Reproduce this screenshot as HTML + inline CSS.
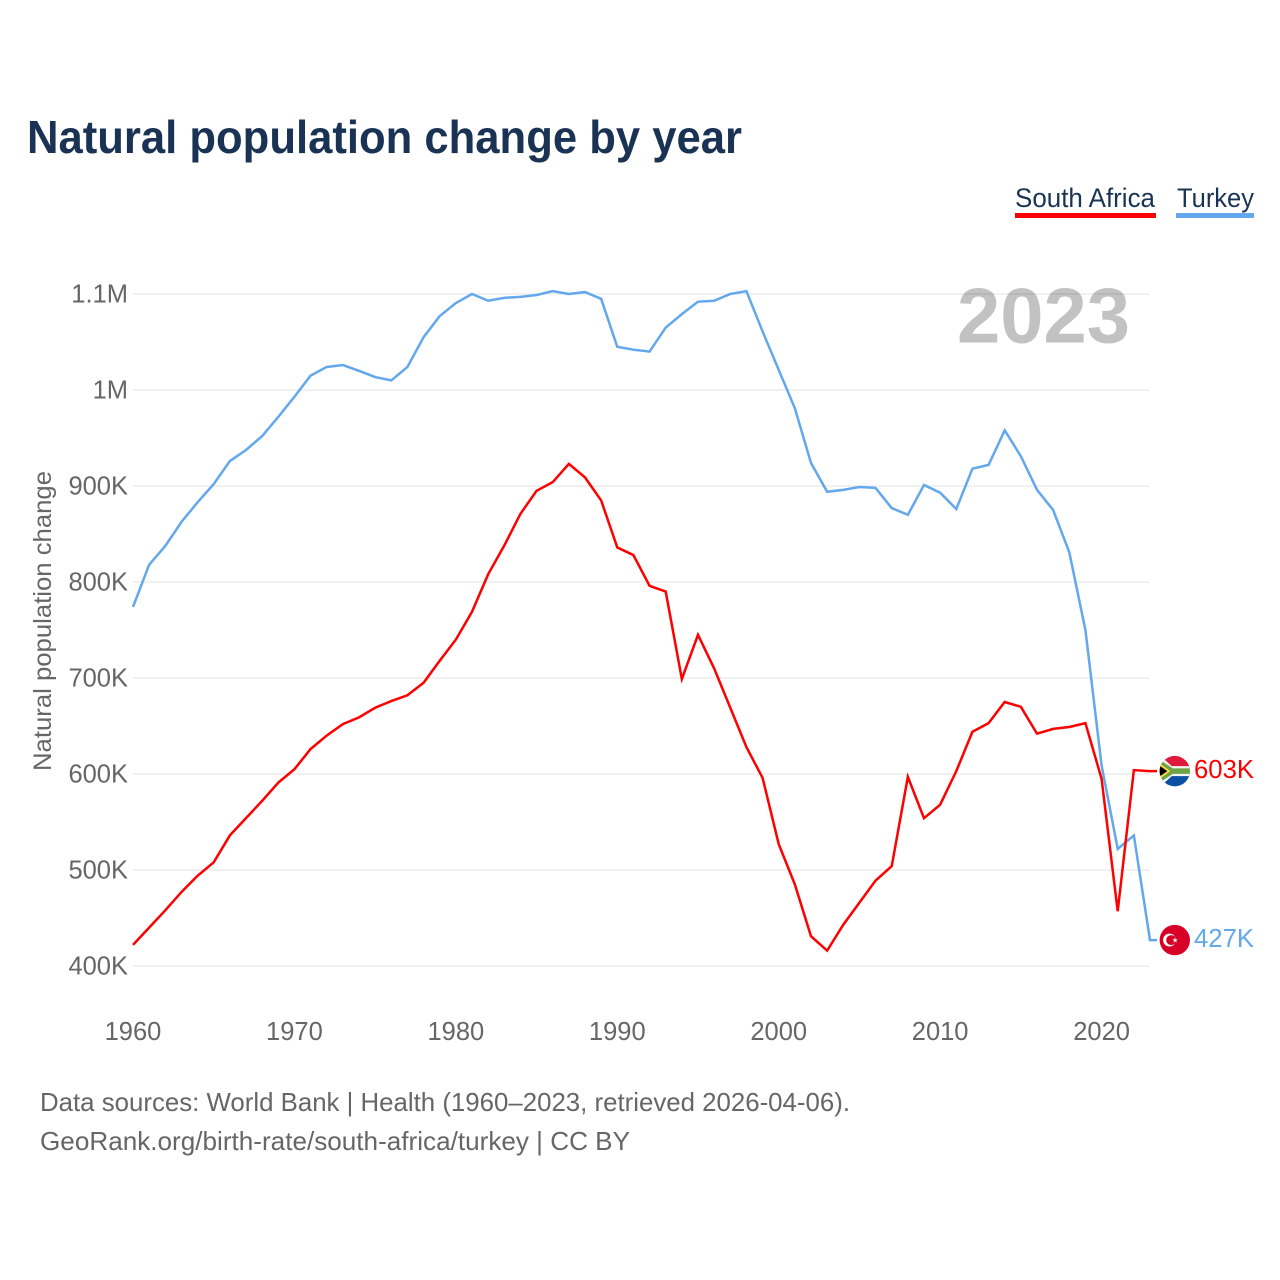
<!DOCTYPE html>
<html lang="en">
<head>
<meta charset="utf-8">
<title>Natural population change by year</title>
<style>
  html, body { margin: 0; padding: 0; background: #fff; }
  svg { display: block; font-family: "Liberation Sans", sans-serif; }
</style>
</head>
<body>
<svg id="chart" xmlns="http://www.w3.org/2000/svg" width="1280" height="1280" viewBox="0 0 1280 1280">
  <defs>
    <clipPath id="flag-clip"><circle cx="0" cy="0" r="15.2"/></clipPath>
  </defs>
  <rect x="0" y="0" width="1280" height="1280" fill="#fff"/>
  <text x="27" y="153" font-size="46" font-weight="700" fill="#1a3354" textLength="715" lengthAdjust="spacingAndGlyphs">Natural population change by year</text>

  <g>
    <text x="1015" y="207" font-size="27" fill="#1a3354" textLength="140" lengthAdjust="spacingAndGlyphs">South Africa</text>
    <rect x="1015" y="213" width="141" height="5" fill="#ff0000"/>
  </g>
  <g>
    <text x="1177" y="207" font-size="27" fill="#1a3354" textLength="77" lengthAdjust="spacingAndGlyphs">Turkey</text>
    <rect x="1176" y="213" width="78" height="5" fill="#63a7ec"/>
  </g>

  <text x="957" y="342.5" font-size="78" font-weight="700" fill="#c2c2c2" textLength="173" lengthAdjust="spacingAndGlyphs">2023</text>

  <g id="grid"></g>
  <g id="y-ticks"></g>
  <g id="x-ticks"></g>

  <text transform="translate(51,771) rotate(-90)" x="0" y="0" font-size="25" fill="#666" textLength="300" lengthAdjust="spacingAndGlyphs">Natural population change</text>

  <g id="series"></g>

  <g id="flag-za">
    <g clip-path="url(#flag-clip)">
      <rect x="-16" y="-16" width="32" height="16" fill="#de1b3a"/>
      <rect x="-16" y="0" width="32" height="16" fill="#0b4ea2"/>
      <path d="M-13,-14 L-3,-5 L16,-5 L16,5 L-3,5 L-13,14 L-16,14 L-16,-14 Z" fill="#f4f4f4"/>
      <path d="M-16,-12 L-2,-2.8 L16,-2.8 L16,2.8 L-2,2.8 L-16,12 Z" fill="#6da544"/>
      <path d="M-16,-8.5 L-4.5,0 L-16,8.5 Z" fill="#ffda44"/>
      <path d="M-16,-6 L-7.5,0 L-16,6 Z" fill="#000"/>
    </g>
  </g>
  <g id="flag-tr">
    <g clip-path="url(#flag-clip)">
      <rect x="-16" y="-16" width="32" height="32" fill="#d80027"/>
      <circle cx="-5.3" cy="0" r="6.4" fill="#fff"/>
      <circle cx="-3.6" cy="0" r="5" fill="#d80027"/>
      <path transform="translate(-3.2,0)" d="M3.4,-2.6 L4.1,-0.7 L6.1,-0.8 L4.6,0.5 L5.3,2.4 L3.5,1.3 L1.9,2.5 L2.4,0.5 L0.8,-0.7 L2.8,-0.7 Z" fill="#fff"/>
    </g>
  </g>

  <text x="40" y="1111" font-size="26" fill="#666" textLength="810" lengthAdjust="spacingAndGlyphs">Data sources: World Bank | Health (1960–2023, retrieved 2026-04-06).</text>
  <text x="40" y="1150" font-size="26" fill="#666" textLength="590" lengthAdjust="spacingAndGlyphs">GeoRank.org/birth-rate/south-africa/turkey | CC BY</text>

  <script>
    // Chart data (values in thousands)
    const years = [1960,1961,1962,1963,1964,1965,1966,1967,1968,1969,1970,1971,1972,1973,1974,1975,1976,1977,1978,1979,1980,1981,1982,1983,1984,1985,1986,1987,1988,1989,1990,1991,1992,1993,1994,1995,1996,1997,1998,1999,2000,2001,2002,2003,2004,2005,2006,2007,2008,2009,2010,2011,2012,2013,2014,2015,2016,2017,2018,2019,2020,2021,2022,2023];
    const turkeyValues = [774,818,837.5,862.5,883,902,926,937.5,952,972,993,1015,1024,1026,1020,1013.5,1010,1024,1055,1077,1090.6,1100,1093,1096,1097,1099,1103,1100,1102,1095,1045,1042,1040,1065,1079,1092,1093,1100,1103,1061,1021,981,924,894,896,899,898,877,870,901,893,876,918,922,958,931,896,875,831,750,609,522,536,427];
    const southAfricaValues = [422,440,458,477,494,508,536,554,572,591,605,626,640,652,659,669,676,682,695,718,740,769,808,838,871,895,904,923,909,885,836,828,796,790,699,745,710,669,628,596,527,485,431,416,443,466,489,504,597,554,568,603,644,653,675,670,642,647,649,653,595,457,604,603];
    const yTickValues = [400,500,600,700,800,900,1000,1100];
    const yTickLabels = ["400K","500K","600K","700K","800K","900K","1M","1.1M"];
    const xTickValues = [1960,1970,1980,1990,2000,2010,2020];
    const xTickLabels = ["1960","1970","1980","1990","2000","2010","2020"];
    const endLabelSouthAfrica = "603K";
    const endLabelTurkey = "427K";

    const NS = "http://www.w3.org/2000/svg";
    const X0 = 133, X1 = 1150, Y400 = 966, PX_PER_K = 0.96;
    function xScale(year) { return X0 + (year - 1960) * (X1 - X0) / 63; }
    function yScale(v) { return Y400 - (v - 400) * PX_PER_K; }
    function make(tag, attrs, parent) {
      const el = document.createElementNS(NS, tag);
      for (const k in attrs) el.setAttribute(k, attrs[k]);
      parent.appendChild(el);
      return el;
    }

    const grid = document.getElementById("grid");
    const yTicks = document.getElementById("y-ticks");
    yTickValues.forEach(function (v, i) {
      const line = make("line", { x1: X0, x2: X1, y1: yScale(v), y2: yScale(v), stroke: "#000", "stroke-opacity": 0.09, "stroke-width": 1.2 }, grid);
      
      
      const label = make("text", { x: 128, y: yScale(v) + 8.5, "text-anchor": "end", "font-size": 25.5, fill: "#666" }, yTicks);
      label.textContent = yTickLabels[i];
      
      
    });

    const xTicks = document.getElementById("x-ticks");
    xTickValues.forEach(function (v, i) {
      const label = make("text", { x: xScale(v), y: 1040, "text-anchor": "middle", "font-size": 25.5, fill: "#666" }, xTicks);
      label.textContent = xTickLabels[i];
      
      
    });

    const seriesGroup = document.getElementById("series");
    function drawSeries(values, color, name, flagId, endLabel) {
      const pts = values.map(function (v, i) { return xScale(years[i]) + "," + yScale(v); });
      const lastY = yScale(values[values.length - 1]);
      pts.push("1157," + lastY);
      const line = make("polyline", { points: pts.join(" "), fill: "none", stroke: color, "stroke-width": 2.5, "stroke-linejoin": "miter" }, seriesGroup);
      
      
      document.getElementById(flagId).setAttribute("transform", "translate(1174.8," + lastY + ")");
      const label = make("text", { x: 1194, y: lastY + 6.8, "font-size": 26, fill: color, textLength: 60, lengthAdjust: "spacingAndGlyphs" }, seriesGroup);
      label.textContent = endLabel;
      
      
    }
    drawSeries(turkeyValues, "#63a7ec", "turkey", "flag-tr", endLabelTurkey);
    drawSeries(southAfricaValues, "#ff0000", "south-africa", "flag-za", endLabelSouthAfrica);
    seriesGroup.parentNode.appendChild(document.getElementById("flag-za"));
    seriesGroup.parentNode.appendChild(document.getElementById("flag-tr"));
  </script>
</svg>
</body>
</html>
